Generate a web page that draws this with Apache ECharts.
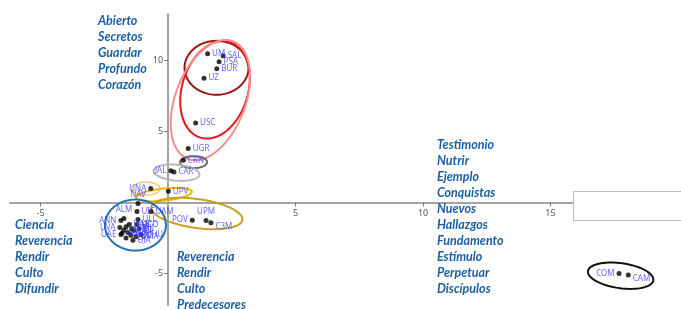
<!DOCTYPE html>
<html>
<head>
<meta charset="utf-8">
<script src="https://cdn.jsdelivr.net/npm/echarts@6/dist/echarts.min.js"></script>
<style>
  html, body { margin: 0; padding: 0; background: #fff; }
  #chart { width: 681px; height: 309px; }
</style>
</head>
<body>
<div id="chart"></div>
<script>
// points: name, x, y
var pointNames = ['UM', 'SAL', 'PSA', 'BUR', 'UZ', 'USC', 'UGR', 'CRN', 'JAL', 'CAR',
  'UNA', 'UPV', 'NAV', 'POV', 'UPM', 'C3M', 'COM', 'CAM',
  'ALM', 'ANN', 'UVA', 'UAE', 'UIC', 'UAM', 'ULL',
  'UCM', 'UAB', 'UB', 'UV', 'UPF', 'UIB', 'UJI', 'UDC', 'UMA', 'UCA', 'UHU', 'UJA', 'UAL', 'UCO'];
var pointX = [1.55, 2.16, 2.0, 1.91, 1.41, 1.08, 0.79, 0.60, 0.11, 0.23,
  -0.68, 0.01, -1.18, 0.95, 1.49, 1.68, 17.69, 18.05,
  -1.73, -1.85, -1.89, -1.85, -1.22, -0.67, -1.18,
  -1.65, -1.53, -1.42, -1.73, -1.57, -1.34, -1.14, -1.46, -1.26, -1.65, -1.06, -1.38, -1.81, -1.22];
var pointY = [10.45, 10.31, 9.89, 9.40, 8.74, 5.59, 3.79, 2.97, 2.24, 2.15,
  0.98, 0.79, -0.07, -1.24, -1.26, -1.42, -4.98, -5.10,
  -1.12, -1.26, -1.75, -2.24, -0.63, -0.63, -1.19,
  -1.70, -1.55, -1.85, -1.95, -2.10, -1.95, -1.85, -2.30, -2.40, -2.50, -2.25, -2.65, -2.15, -1.55];

// groups circled on the map: centre (data units)
var groupCx = [1.90, 1.84, 1.66, 1.00, 0.33, -0.87, -0.16, 1.13, -1.28, 17.75];
var groupCy = [9.47, 7.92, 7.20, 2.84, 2.10, 0.98, 0.56, -0.77, -1.58, -5.14];

// word lists
var wordsTopLeft = ['Abierto', 'Secretos', 'Guardar', 'Profundo', 'Corazón'];
var wordsBottomLeft = ['Ciencia', 'Reverencia', 'Rendir', 'Culto', 'Difundir'];
var wordsBottomMid = ['Reverencia', 'Rendir', 'Culto', 'Predecesores'];
var wordsRight = ['Testimonio', 'Nutrir', 'Ejemplo', 'Conquistas', 'Nuevos', 'Hallazgos',
  'Fundamento', 'Estímulo', 'Perpetuar', 'Discípulos'];

var xTicks = [-5, 5, 10, 15];
var yTicks = [-5, 5, 10];

var xMin = -6.2, xMax = 20, yMin = -7.2, yMax = 13.25;
var gridL = 10, gridT = 14, gridW = 668, gridH = 291;

// styling
var labelPos = {
  JAL: 'left', UNA: 'left', POV: 'left', COM: 'left', UPM: 'top', NAV: 'top',
  ALM: 'top', ANN: 'left', UVA: 'left', UAE: 'left'
};
var labelOffset = { C3M: [0, 4], CAM: [0, 4] };
// rx, ry (px), rotation (deg), colour, width
var groupStyle = [
  [32, 27, 0, '#9b1414', 2],
  [33, 50, 17, '#e3181c', 2],
  [35, 63, 21, '#f28f8f', 2],
  [13.5, 6, 0, '#6e6e6e', 2],
  [23, 8, 5, '#b8b8b8', 2],
  [14, 6.5, 0, '#f6c979', 1.5],
  [28, 6, -6, '#f2b600', 2],
  [46, 14.5, 8, '#c9a020', 2],
  [30.5, 25.5, 0, '#2372b5', 2],
  [33, 12.5, 8, '#111111', 2]
];

var scatterData = pointNames.map(function (n, i) {
  var item = { name: n, value: [pointX[i], pointY[i]] };
  var lab = { position: labelPos[n] || 'right' };
  if (labelOffset[n]) lab.offset = labelOffset[n];
  item.label = lab;
  return item;
});

var groupData = groupCx.map(function (x, i) { return [x, groupCy[i], i]; });

function wordBlock(words, x, y) {
  return {
    type: 'text', left: x, top: y, z: 50,
    style: {
      text: words.join('\n'),
      fill: '#1b5fa6',
      font: 'italic bold 12.5px Lato',
      lineHeight: 16,
      shadowColor: 'rgba(0,0,0,0.3)',
      shadowOffsetX: 1, shadowOffsetY: 1, shadowBlur: 1
    }
  };
}

// axes crossing at zero, placed by offset from the grid edges
var yAxisOffset = -(0 - xMin) / (xMax - xMin) * gridW;
var xAxisOffset = -(0 - yMin) / (yMax - yMin) * gridH;

var option = {
  animation: false,
  backgroundColor: '#fff',
  grid: { left: gridL, top: gridT, width: gridW, height: gridH, containLabel: false, outerBoundsMode: 'none' },
  xAxis: {
    type: 'value', min: xMin, max: xMax, position: 'bottom', offset: xAxisOffset,
    axisLine: { onZero: false, lineStyle: { color: '#a3a3a3', width: 2 } },
    axisTick: { customValues: xTicks, length: 4, lineStyle: { color: '#777' } },
    axisLabel: { customValues: xTicks, fontSize: 9, color: '#555', margin: 6, fontFamily: 'Noto Sans' },
    splitLine: { show: false }
  },
  yAxis: {
    type: 'value', min: yMin, max: yMax, position: 'left', offset: yAxisOffset,
    axisLine: { onZero: false, lineStyle: { color: '#a3a3a3', width: 2 } },
    axisTick: { customValues: yTicks, length: 4, lineStyle: { color: '#777' } },
    axisLabel: { customValues: yTicks, fontSize: 9, color: '#555', margin: 5, fontFamily: 'Noto Sans' },
    splitLine: { show: false }
  },
  series: [
    {
      type: 'custom',
      data: groupData,
      clip: false,
      z: 3,
      renderItem: function (params, api) {
        var c = api.coord([api.value(0), api.value(1)]);
        var s = groupStyle[api.value(2)];
        var a = s[2] * Math.PI / 180, pts = [];
        for (var k = 0; k <= 72; k++) {
          var t = k / 72 * Math.PI * 2;
          var ex = s[0] * Math.cos(t), ey = s[1] * Math.sin(t);
          pts.push([c[0] + ex * Math.cos(a) - ey * Math.sin(a),
                    c[1] + ex * Math.sin(a) + ey * Math.cos(a)]);
        }
        return {
          type: 'polygon',
          shape: { points: pts },
          style: { fill: 'none', stroke: s[3], lineWidth: s[4] }
        };
      }
    },
    {
      type: 'scatter',
      data: scatterData,
      symbolSize: 5,
      z: 4,
      itemStyle: { color: '#000' },
      label: {
        show: true, formatter: '{b}', distance: 2,
        fontSize: 8, color: '#3c3cff', fontFamily: 'Noto Sans'
      }
    }
  ],
  graphic: [
    wordBlock(wordsTopLeft, 98, 13),
    wordBlock(wordsBottomLeft, 15, 217),
    wordBlock(wordsBottomMid, 177, 249),
    wordBlock(wordsRight, 437, 137),
    {
      type: 'rect', left: 573, top: 191, z: 60,
      shape: { width: 112, height: 29 },
      style: { fill: '#fff', stroke: '#bdbdbd', lineWidth: 1 }
    }
  ]
};

var chart = echarts.init(document.getElementById('chart'));
chart.setOption(option);
</script>
</body>
</html>
